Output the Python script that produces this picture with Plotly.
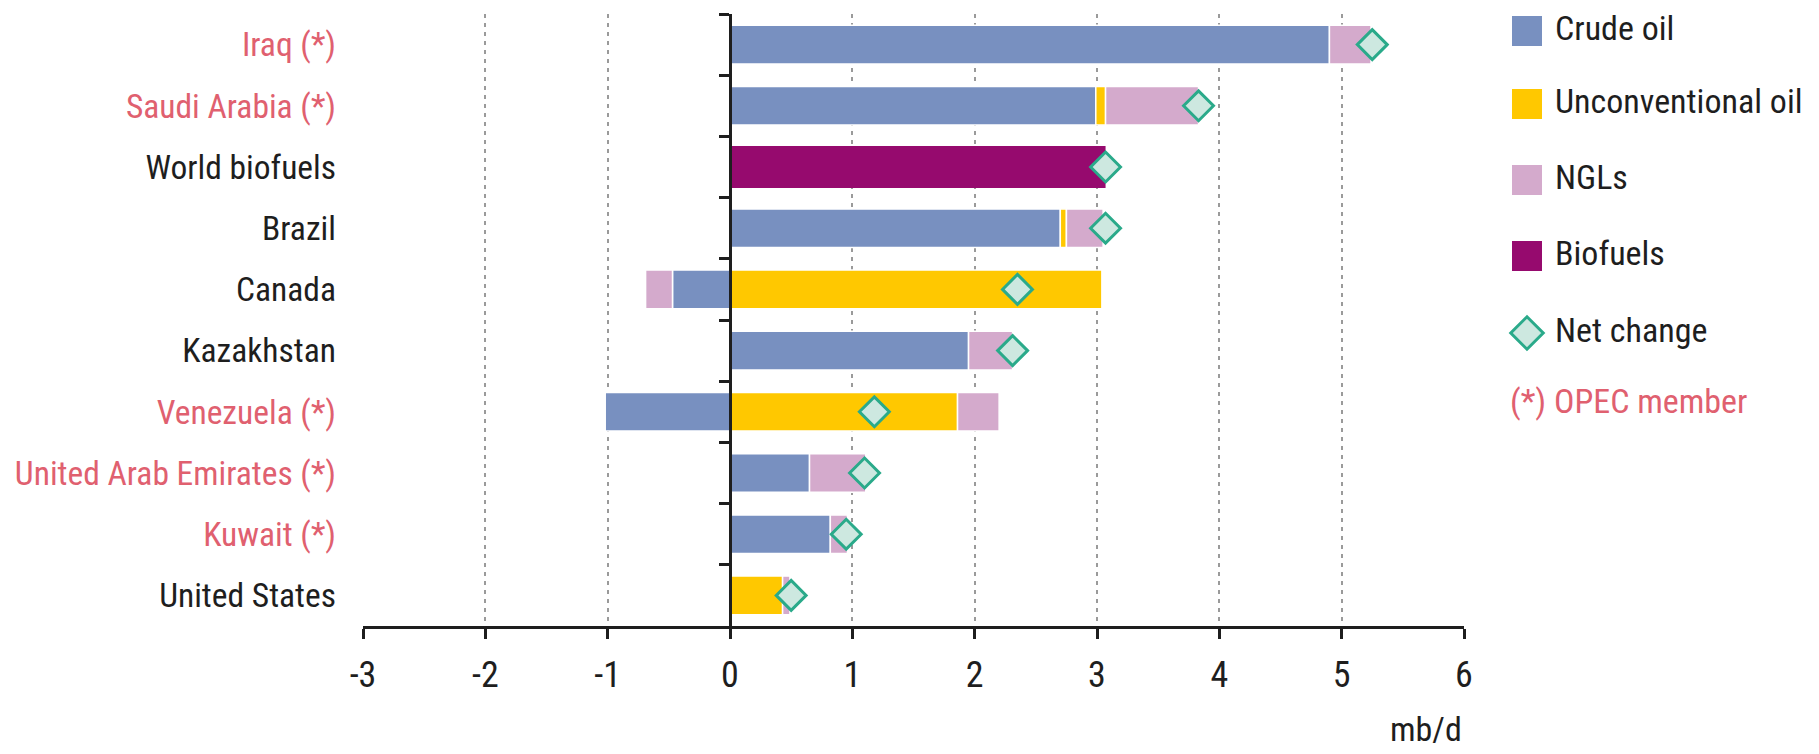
import plotly.graph_objects as go

# ---------------- data ----------------
categories = ["Iraq (*)", "Saudi Arabia (*)", "World biofuels", "Brazil", "Canada",
              "Kazakhstan", "Venezuela (*)", "United Arab Emirates (*)", "Kuwait (*)",
              "United States"]
opec_member = [True, True, False, False, False, False, True, True, True, False]

crude_oil = [4.90, 2.99, 0, 2.70, -0.47, 1.95, -1.02, 0.65, 0.82, 0]
unconventional_oil = [0, 0.08, 0, 0.05, 3.04, 0, 1.86, 0, 0, 0.43]
ngls = [0.34, 0.76, 0, 0.30, -0.22, 0.36, 0.34, 0.46, 0.14, 0.06]
biofuels = [0, 0, 3.07, 0, 0, 0, 0, 0, 0, 0]
net_change = [5.25, 3.83, 3.07, 3.07, 2.35, 2.31, 1.18, 1.10, 0.95, 0.50]

x_ticks = [-3, -2, -1, 0, 1, 2, 3, 4, 5, 6]
x_tick_labels = ["-3", "-2", "-1", "0", "1", "2", "3", "4", "5", "6"]
legend_labels = ["Crude oil", "Unconventional oil", "NGLs", "Biofuels", "Net change"]
opec_note = "(*) OPEC member"
unit_label = "mb/d"

# ---------------- style ----------------
FONT = "Liberation Sans Narrow, Arial Narrow, Roboto Condensed, Lato, sans-serif"
FS_TICK = 36
FS_CAT = 33.5
FS_LEG = 34
FS_UNIT = 34
DARK = "#1e1e1e"
RED = "#e0606f"
C_CRUDE = "#7890c0"
C_UNCONV = "#ffc800"
C_NGL = "#d4aacc"
C_BIO = "#960a6e"
C_DIA_FILL = "#cde8e0"
C_DIA_LINE = "#2aaa8a"

# page geometry (page pixels); the html body adds an 8px margin
OFF = 8
PAGE_W, PAGE_H = 1819, 754
P_LEFT, P_RIGHT_MAIN, P_TOP, P_BOTTOM = 363, 1464, 14, 626
P_LEG_LEFT, P_LEG_RIGHT = 1505, 1809
P_UNIT_Y = 729
W, H = PAGE_W - OFF, PAGE_H - OFF
ML, MT = P_LEFT - OFF, P_TOP - OFF
MR = W - (P_LEG_RIGHT - OFF)
MB = H - (P_BOTTOM - OFF)
plot_w = W - ML - MR
plot_h = H - MT - MB
x_main_end = (P_RIGHT_MAIN - P_LEFT) / plot_w
x_leg_start = (P_LEG_LEFT - P_LEFT) / plot_w
xmin, xmax = x_ticks[0], x_ticks[-1]
zero_pos = x_main_end * (0 - xmin) / (xmax - xmin)

# legend layout, page pixels
leg_row_px = [31, 104, 180, 256, 333, 404]
leg_sym_x = 22
leg_text_x = 50
leg_note_x = 5


def nz(v):
    return [None if a == 0 else a for a in v]


ticktext = [f"<span style='color:{RED if o else DARK}'>{c}</span>"
            for c, o in zip(categories, opec_member)]

fig = go.Figure()
bar_specs = [("Crude oil", crude_oil, C_CRUDE, 0.63, 1.5),
             ("Unconventional oil", unconventional_oil, C_UNCONV, 0.63, 1.5),
             ("NGLs", ngls, C_NGL, 0.63, 1.5),
             ("Biofuels", biofuels, C_BIO, 0.69, 0)]
for name, vals, col, wd, lw in bar_specs:
    fig.add_trace(go.Bar(
        name=name, y=categories, x=nz(vals), orientation="h",
        marker=dict(color=col, line=dict(color="white", width=lw)),
        width=wd, showlegend=False, xaxis="x", yaxis="y"))

fig.add_trace(go.Scatter(
    name="Net change", y=categories, x=net_change, mode="markers",
    marker=dict(symbol="diamond", size=23, color=C_DIA_FILL,
                line=dict(color=C_DIA_LINE, width=3)),
    showlegend=False, xaxis="x", yaxis="y"))

# invisible trace to carry the zero-line category axis
fig.add_trace(go.Scatter(
    y=categories, x=[0] * len(categories), mode="markers",
    marker=dict(opacity=0), hoverinfo="skip", showlegend=False,
    xaxis="x", yaxis="y2"))

# ---------------- custom legend (own small axes) ----------------
leg_colors = [C_CRUDE, C_UNCONV, C_NGL, C_BIO]
fig.add_trace(go.Scatter(
    x=[leg_sym_x] * 4, y=leg_row_px[:4], mode="markers",
    marker=dict(symbol="square", size=30, color=leg_colors),
    hoverinfo="skip", showlegend=False, xaxis="x3", yaxis="y3"))
fig.add_trace(go.Scatter(
    x=[leg_sym_x], y=[leg_row_px[4]], mode="markers",
    marker=dict(symbol="diamond", size=25, color=C_DIA_FILL,
                line=dict(color=C_DIA_LINE, width=3)),
    hoverinfo="skip", showlegend=False, xaxis="x3", yaxis="y3"))
fig.add_trace(go.Scatter(
    x=[leg_text_x] * len(legend_labels), y=leg_row_px[:5], mode="text",
    text=legend_labels, textposition="middle right",
    textfont=dict(family=FONT, size=FS_LEG, color=DARK),
    hoverinfo="skip", showlegend=False, xaxis="x3", yaxis="y3"))
fig.add_trace(go.Scatter(
    x=[leg_note_x], y=[leg_row_px[5]], mode="text", text=[opec_note],
    textposition="middle right", textfont=dict(family=FONT, size=FS_LEG, color=RED),
    hoverinfo="skip", showlegend=False, xaxis="x3", yaxis="y3"))

fig.update_layout(
    width=W, height=H,
    margin=dict(l=ML, r=MR, t=MT, b=MB, autoexpand=False),
    paper_bgcolor="white", plot_bgcolor="white",
    barmode="relative", bargap=0.3,
    font=dict(family=FONT, size=FS_TICK, color=DARK),
    showlegend=False,
    xaxis=dict(domain=[0, x_main_end], range=[xmin, xmax],
               tickvals=x_ticks, ticktext=x_tick_labels,
               showline=True, linecolor=DARK, linewidth=2.5,
               ticks="outside", ticklen=10, tickwidth=2.5, tickcolor=DARK,
               showgrid=True, gridcolor="#9a9a9a", gridwidth=1.5, griddash="4px,5px",
               zeroline=False, ticklabelstandoff=5, automargin=False,
               tickfont=dict(family=FONT, size=FS_TICK, color=DARK), anchor="y"),
    yaxis=dict(type="category", categoryorder="array", categoryarray=categories,
               range=[len(categories) - 0.5, -0.5],
               tickvals=categories, ticktext=ticktext, automargin=False,
               showline=False, showgrid=False, zeroline=False, ticks="",
               ticklabelstandoff=26, tickfont=dict(family=FONT, size=FS_CAT, color=DARK),
               anchor="x"),
    yaxis2=dict(type="category", categoryorder="array", categoryarray=categories,
                range=[len(categories) - 0.5, -0.5], overlaying="y",
                anchor="free", position=zero_pos, side="left", automargin=False,
                showline=True, linecolor=DARK, linewidth=2.5,
                ticks="outside", tickson="boundaries", ticklen=10, tickwidth=2.5,
                tickcolor=DARK, showticklabels=False, showgrid=False, zeroline=False),
    xaxis3=dict(domain=[x_leg_start, 1], range=[0, P_LEG_RIGHT - P_LEG_LEFT],
                visible=False, anchor="y3", fixedrange=True, automargin=False),
    yaxis3=dict(domain=[0, 1], range=[P_BOTTOM, P_TOP], visible=False,
                anchor="x3", fixedrange=True, automargin=False),
    annotations=[dict(text=unit_label, xref="x domain", x=1, xanchor="right",
                      yref="paper", y=-(P_UNIT_Y - P_BOTTOM) / plot_h, yanchor="middle",
                      showarrow=False, font=dict(family=FONT, size=FS_UNIT, color=DARK))],
)

fig.write_html("out.html")
